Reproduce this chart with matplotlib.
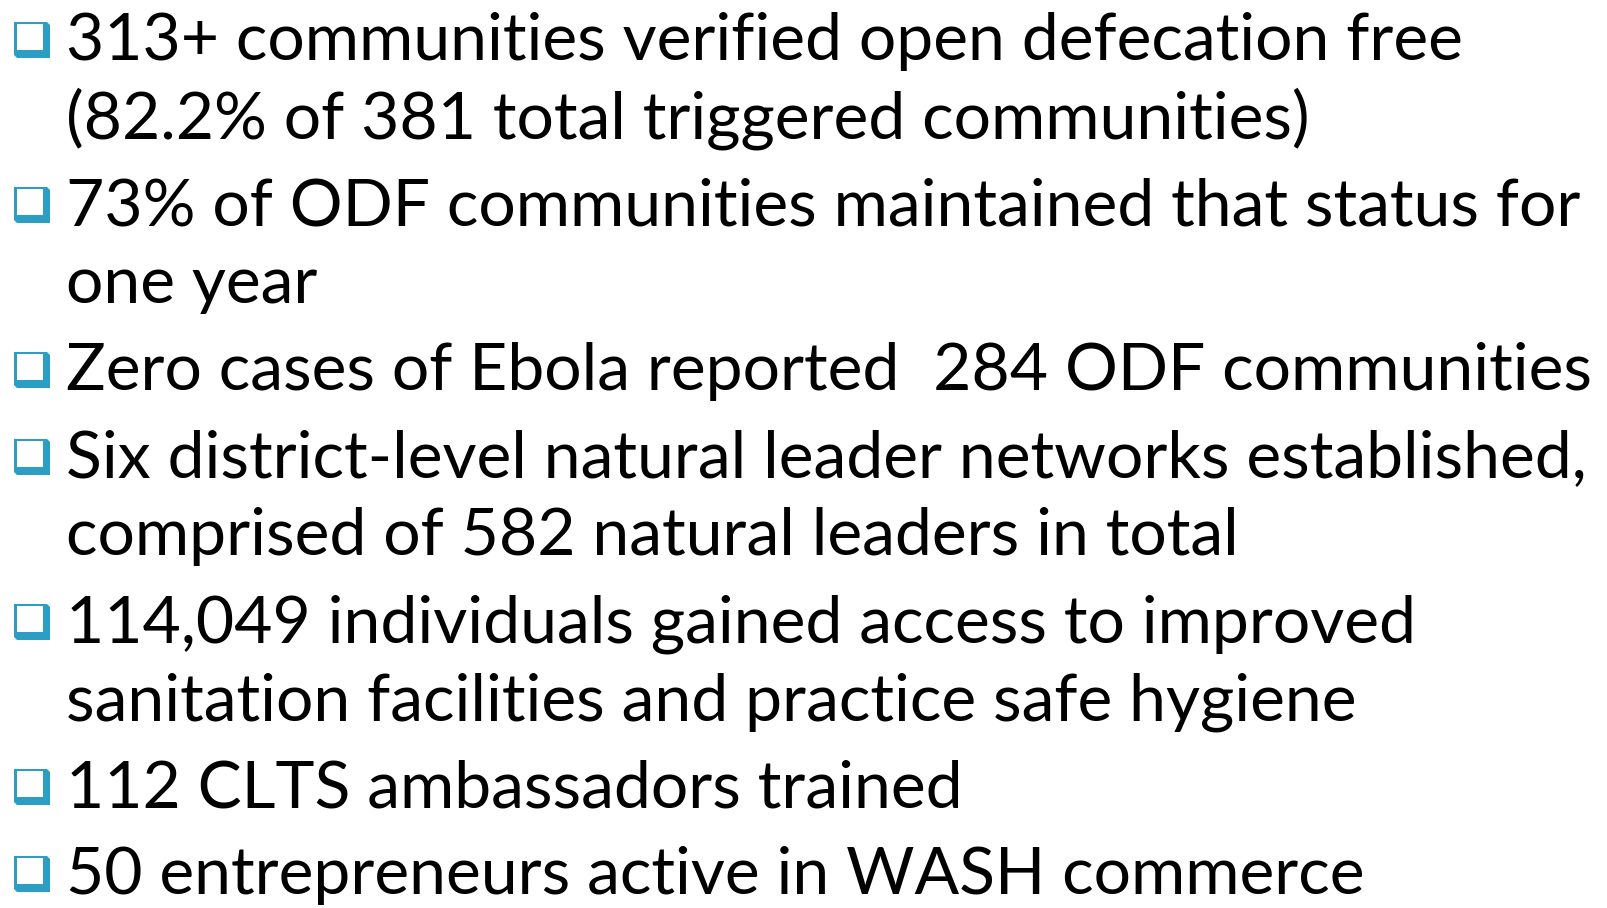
import matplotlib
matplotlib.use("Agg")
import matplotlib.pyplot as plt
from matplotlib.patches import Rectangle, Polygon

# bullet items, each a list of lines
items = [
    ["313+ communities verified open defecation free",
     "(82.2% of 381 total triggered communities)"],
    ["73% of ODF communities maintained that status for",
     "one year"],
    ["Zero cases of Ebola reported  284 ODF communities"],
    ["Six district-level natural leader networks established,",
     "comprised of 582 natural leaders in total"],
    ["114,049 individuals gained access to improved",
     "sanitation facilities and practice safe hygiene"],
    ["112 CLTS ambassadors trained"],
    ["50 entrepreneurs active in WASH commerce"],
]

W, H = 1608, 908
fig = plt.figure(figsize=(W / 100, H / 100), dpi=100)
ax = fig.add_axes([0, 0, 1, 1])
ax.set_xlim(0, W)
ax.set_ylim(H, 0)
ax.axis("off")

teal = "#2C9EC4"
font = "Lato"
fs = 52

# baselines in pixels
line_gap = 78
item_gap = 87
y = 60
x_text = 66
texts = []
for lines in items:
    # bullet square with a little bevel
    bx, by, s = 14, y - 38, 36
    ax.add_patch(Polygon([(bx, by), (bx + s - 3, by), (bx + s, by + 3),
                          (bx + s, by + s), (bx + 3, by + s), (bx, by + s - 3)],
                         closed=True, facecolor=teal, edgecolor="none"))
    ax.add_patch(Rectangle((bx + 3, by + 2), s - 10, s - 10,
                           facecolor="white", edgecolor="none"))
    for i, line in enumerate(lines):
        t = ax.text(x_text, y, line, fontsize=fs, family=font,
                    color="black", va="baseline", ha="left")
        texts.append(t)
        y += line_gap if i < len(lines) - 1 else 0
    y += item_gap

# fit font size so the widest line matches the slide width
fig.canvas.draw()
r = fig.canvas.get_renderer()
widest = max(t.get_window_extent(r).width for t in texts)
scale = 1528 / widest
for t in texts:
    t.set_fontsize(fs * scale)

fig.savefig("out.png", dpi=100, facecolor="white")
